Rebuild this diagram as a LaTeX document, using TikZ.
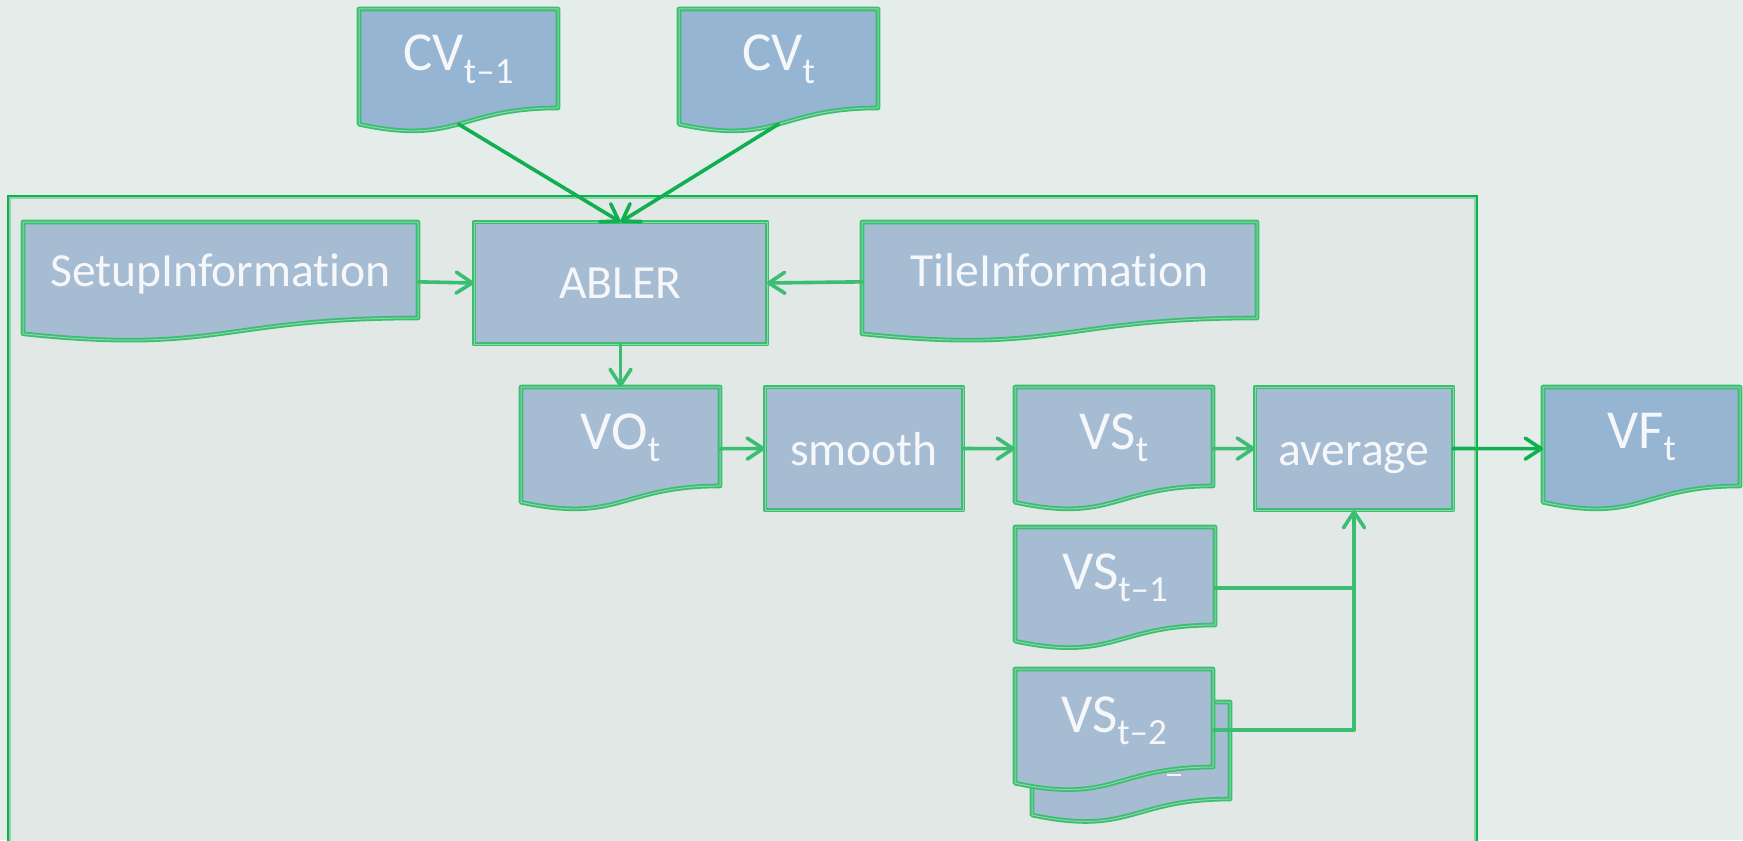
\documentclass[tikz,border=0pt]{standalone}
\usepackage{fontspec}
\setmainfont{Carlito}[Ligatures=NoCommon]
\usetikzlibrary{calc,arrows.meta}
\pgfdeclarelayer{back}
\pgfdeclarelayer{shapes}
\pgfsetlayers{back,shapes,main}
\definecolor{bgcol}{RGB}{228,237,233}
\definecolor{contcol}{RGB}{225,232,230}
\definecolor{cvfill}{RGB}{150,181,210}
\definecolor{infill}{RGB}{166,188,210}
\definecolor{nodegreen}{RGB}{59,190,114}
\definecolor{lightgreen}{RGB}{140,215,170}
\definecolor{darkgreen}{RGB}{16,176,80}
\definecolor{txt}{RGB}{245,247,250}
\newcommand\sbs[1]{\raisebox{-6pt}{\fontsize{18.5}{18.5}\selectfont #1}}
\newcommand\bigtxt{\fontsize{27.5}{30}\selectfont}
\newcommand\midtxt{\fontsize{23.8}{26}\selectfont}
\newcommand\docshape[2]{%
  \path[shapeline, fill=#2] (#1.north west) -- (#1.north east)
    -- ($(#1.north east)!0.802!(#1.south east)$)
    .. controls ($(#1.north)!0.802!(#1.south)$) and ($(#1.north)!1.1075!(#1.south)$)
    .. ($(#1.north west)!0.934!(#1.south west)$) -- cycle;}
\tikzset{
  shapeline/.style={draw=nodegreen, line width=0.9pt, double=lightgreen, double distance=0.5pt, line join=round},
  box/.style={anchor=north west, inner sep=0pt, outer sep=0pt, text=txt, align=center},
  docbox/.style={box},
  procbox/.style={box, shapeline, fill=infill},
  conn/.style={draw=nodegreen, line width=1.8pt, line cap=round, line join=round,
    -{Straight Barb[round, length=8pt, width=10.5pt]}},
  connplain/.style={draw=nodegreen, line width=1.8pt, line join=round},
  conndark/.style={conn, draw=darkgreen},
}
\begin{document}
\begin{tikzpicture}[x=0.5pt, y=-0.5pt]
\useasboundingbox (0,0) rectangle (1743,840);
\begin{pgfonlayer}{back}
  \fill[bgcol] (0,0) rectangle (1743,840);
  \filldraw[fill=contcol, draw=darkgreen, line width=1pt] (8,196) rectangle (1477,843);
  \draw[lightgreen, line width=1pt] (10,198) rectangle (1475,843);
\end{pgfonlayer}

% document nodes
\node[docbox, minimum width=99.5pt, text height=31pt, text depth=30.7pt] (cv1) at (359,9) {\bigtxt CV\sbs{t–1}};
\node[docbox, minimum width=99.5pt, text height=31pt, text depth=30.7pt] (cv2) at (679,9) {\bigtxt CV\sbs{t}};
\node[docbox, minimum width=197.5pt, text height=32pt, text depth=27.85pt] (setup) at (23,222) {\midtxt SetupInformation};
\node[docbox, minimum width=197.5pt, text height=32pt, text depth=27.85pt] (tile) at (862,222) {\midtxt TileInformation};
\node[docbox, minimum width=99.5pt, text height=31pt, text depth=30.7pt] (vo) at (521,387) {\bigtxt VO\sbs{t}};
\node[docbox, minimum width=99pt, text height=31pt, text depth=30.7pt] (vs) at (1015,387) {\bigtxt VS\sbs{t}};
\node[docbox, minimum width=98.5pt, text height=30.5pt, text depth=31.2pt] (vf) at (1543,387) {\bigtxt VF\sbs{t}};
\node[docbox, minimum width=100pt, text height=31pt, text depth=30.1pt] (vs1) at (1015,527) {\bigtxt VS\sbs{t–1}};
\node[docbox, minimum width=99pt, text height=31pt, text depth=29.5pt] (vs2b) at (1032,702) {};
\node[docbox, minimum width=99pt, text height=31.5pt, text depth=29.6pt] (vs2) at (1015,669) {\bigtxt VS\sbs{t–2}};

\begin{pgfonlayer}{shapes}
  \docshape{cv1}{cvfill}
  \docshape{cv2}{cvfill}
  \docshape{setup}{infill}
  \docshape{tile}{infill}
  \docshape{vo}{infill}
  \docshape{vs}{infill}
  \docshape{vf}{cvfill}
  \docshape{vs1}{infill}
  \docshape{vs2b}{infill}
  \docshape{vs2}{infill}
\end{pgfonlayer}
\draw[txt, line width=1pt] (1167,775) -- (1181,775);

% process nodes
\node[procbox, minimum width=146.5pt, text height=38pt, text depth=23pt] (abler) at (474,222) {\midtxt ABLER};
\node[procbox, minimum width=99pt, text height=39pt, text depth=22.5pt] (smooth) at (765,387) {\midtxt smooth};
\node[procbox, minimum width=99pt, text height=39pt, text depth=22.5pt] (avg) at (1255,387) {\midtxt average};

% connectors
\draw[conndark] ($(cv1.north)!0.933!(cv1.south)$) -- (abler.north);
\draw[conndark] ($(cv2.north)!0.933!(cv2.south)$) -- (abler.north);
\draw[conn] (setup.east) -- (abler.west);
\draw[conn] (tile.west) -- (abler.east);
\draw[conn] (abler.south) -- (vo.north);
\draw[conn] (vo.east) -- (smooth.west);
\draw[conn] (smooth.east) -- (vs.west);
\draw[conn] (vs.east) -- (avg.west);
\draw[conndark] (avg.east) -- (vf.west);
\draw[connplain] (vs2.east) -- (vs2.east -| avg.south) -- (vs1.east -| avg.south);
\draw[conn] (vs1.east) -- (vs1.east -| avg.south) -- (avg.south);
\end{tikzpicture}
\end{document}
